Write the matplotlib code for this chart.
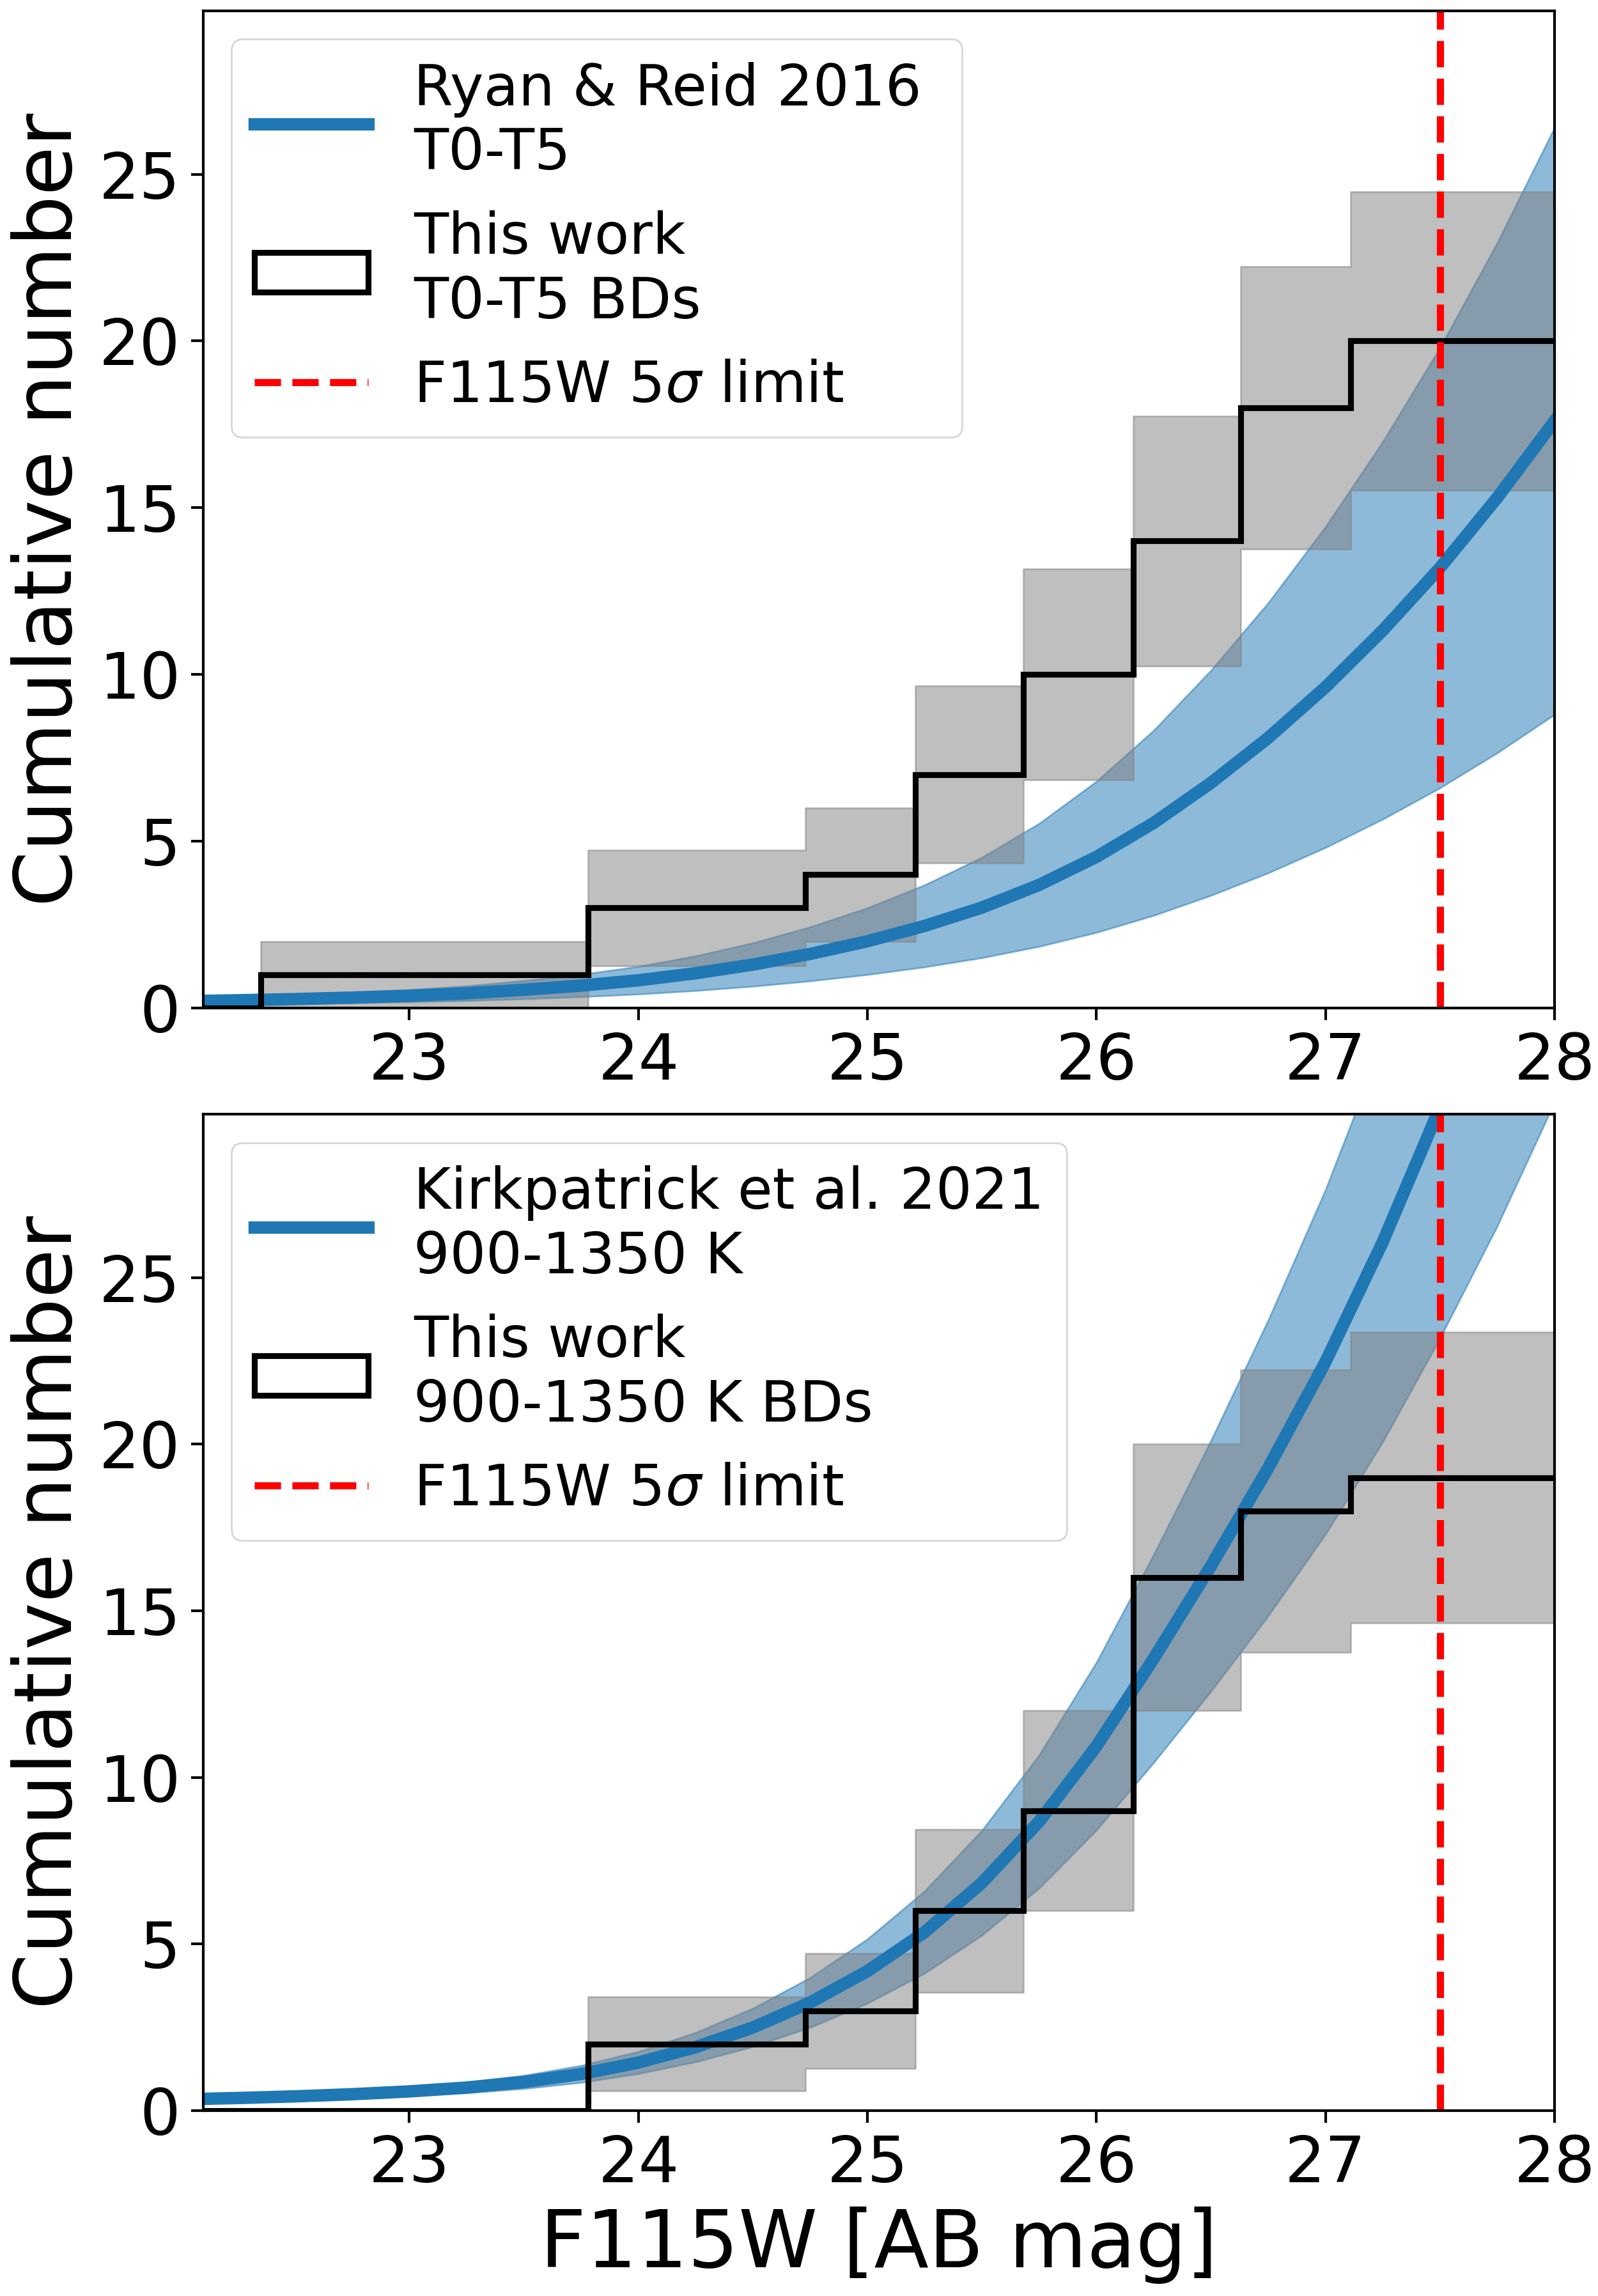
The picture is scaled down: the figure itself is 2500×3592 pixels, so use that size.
"""Cumulative number counts of T dwarfs vs. model predictions (two panels)."""
import numpy as np
import matplotlib
matplotlib.use('Agg')
import matplotlib.pyplot as plt

plt.rcParams['font.family'] = ['DejaVu Sans']
plt.rcParams['axes.linewidth'] = 1.5
plt.rcParams['mathtext.fontset'] = 'dejavusans'

# ---- model curves ----
mag = [22.00, 22.25, 22.50, 22.75, 23.00, 23.25, 23.50, 23.75, 24.00,
       24.25, 24.50, 24.75, 25.00, 25.25, 25.50, 25.75, 26.00, 26.25,
       26.50, 26.75, 27.00, 27.25, 27.50, 27.75, 28.00]

rr16_mid = [0.20, 0.23, 0.265, 0.31, 0.365, 0.44, 0.545, 0.67, 0.83, 1.04,
            1.30, 1.62, 2.00, 2.46, 3.01, 3.69, 4.53, 5.55, 6.75, 8.10,
            9.62, 11.32, 13.20, 15.30, 17.60]
rr16_lo = [0.10, 0.115, 0.1325, 0.155, 0.1825, 0.22, 0.2725, 0.335, 0.415, 0.52,
           0.65, 0.81, 1.00, 1.23, 1.505, 1.845, 2.265, 2.775, 3.375, 4.05,
           4.81, 5.66, 6.60, 7.65, 8.80]
rr16_hi = [0.30, 0.345, 0.3975, 0.465, 0.5475, 0.66, 0.8175, 1.005, 1.245, 1.56,
           1.95, 2.43, 3.00, 3.69, 4.515, 5.535, 6.795, 8.325, 10.125, 12.15,
           14.43, 16.98, 19.80, 22.95, 26.40]

k21_mid = [0.340, 0.381, 0.430, 0.495, 0.579, 0.695, 0.862, 1.103, 1.445, 1.907,
           2.499, 3.248, 4.190, 5.36, 6.84, 8.68, 10.94, 13.57, 16.35, 19.29,
           22.47, 26.07, 30.11, 34.48, 39.30]
k21_lo = [0.262, 0.293, 0.331, 0.381, 0.446, 0.535, 0.664, 0.849, 1.113, 1.468,
          1.924, 2.501, 3.226, 4.127, 5.267, 6.684, 8.424, 10.449, 12.590, 14.853,
          17.302, 20.074, 23.185, 26.550, 30.261]
k21_hi = [0.418, 0.469, 0.529, 0.609, 0.712, 0.855, 1.060, 1.357, 1.777, 2.346,
          3.074, 3.995, 5.154, 6.593, 8.413, 10.676, 13.456, 16.691, 20.111, 23.727,
          27.638, 32.066, 37.035, 42.410, 48.339]

# ---- observed cumulative counts: bin edges, counts, error box limits ----
t_edges = [21.90, 22.35, 23.78, 24.73, 25.21, 25.68, 26.16, 26.63, 27.11, 28.30]
t_counts = [0, 1, 3, 4, 7, 10, 14, 18, 20]
t_err_lo = [0.0, 0.0, 1.27, 2.00, 4.35, 6.84, 10.26, 13.76, 15.53]
t_err_hi = [0.0, 2.00, 4.73, 6.00, 9.65, 13.16, 17.74, 22.24, 24.47]

b_edges = [21.90, 23.78, 24.73, 25.21, 25.68, 26.16, 26.63, 27.11, 28.30]
b_counts = [0, 2, 3, 6, 9, 16, 18, 19]
b_err_lo = [0.0, 0.59, 1.27, 3.55, 6.00, 12.00, 13.76, 14.64]
b_err_hi = [0.0, 3.41, 4.73, 8.45, 12.00, 20.00, 22.24, 23.36]

mag_limit = 27.5
xticks = [23, 24, 25, 26, 27, 28]
yticks = [0, 5, 10, 15, 20, 25]


def draw_panel(ax, mid, lo, hi, model_label, edges, counts, err_lo, err_hi, obs_label):
    ax.fill_between(mag, lo, hi, color='C0', alpha=0.5)
    ax.fill_between(edges, err_lo + err_lo[-1:], err_hi + err_hi[-1:],
                    step='post', color='grey', alpha=0.5)
    ax.plot(mag, mid, color='C0', lw=7, label=model_label)
    ax.hist(edges[:-1], bins=edges, weights=counts, histtype='step',
            color='k', lw=3.3, label=obs_label)
    ax.axvline(mag_limit, color='red', ls='--', lw=4, label=r'F115W 5$\sigma$ limit')

    ax.set_xlim(22.1, 28.0)
    ax.set_ylim(0, 29.9)
    ax.set_xticks(xticks)
    ax.set_yticks(yticks)
    ax.tick_params(labelsize=36, length=7, width=1.5, pad=6)
    ax.set_ylabel('Cumulative number', fontsize=45, labelpad=6)
    ax.legend(loc='upper left', fontsize=32)


fig = plt.figure(figsize=(12.5, 17.96), dpi=200)
ax1 = fig.add_axes([0.1272, 0.5610, 0.8456, 0.4343])
ax2 = fig.add_axes([0.1272, 0.0807, 0.8456, 0.4340])

draw_panel(ax1, rr16_mid, rr16_lo, rr16_hi, 'Ryan & Reid 2016 \nT0-T5',
           t_edges, t_counts, t_err_lo, t_err_hi, 'This work\nT0-T5 BDs')
draw_panel(ax2, k21_mid, k21_lo, k21_hi, 'Kirkpatrick et al. 2021\n900-1350 K',
           b_edges, b_counts, b_err_lo, b_err_hi, 'This work\n900-1350 K BDs')
ax2.set_xlabel('F115W [AB mag]', fontsize=45, labelpad=6)

fig.savefig('out.png', dpi=200)
print('saved: out.png')
